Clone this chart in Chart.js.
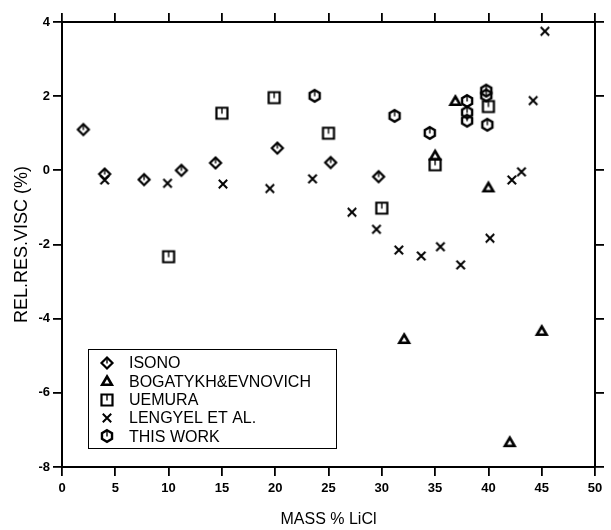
<!DOCTYPE html>
<html><head><meta charset="utf-8">
<script src="https://cdn.jsdelivr.net/npm/chart.js@4.4.0/dist/chart.umd.min.js"></script>
<style>html,body{margin:0;padding:0;background:#fff;}canvas{display:block}</style>
</head><body>
<canvas id="c" width="611" height="530"></canvas>
<script>
// ---- data ----
const seriesNames = ['ISONO', 'BOGATYKH&EVNOVICH', 'UEMURA', 'LENGYEL ET AL.', 'THIS WORK'];
const isonoX = [2.0, 4.0, 7.7, 11.2, 14.4, 20.2, 25.2, 29.7];
const isonoY = [1.1, -0.1, -0.25, 0.0, 0.2, 0.6, 0.21, -0.17];
const bogatykhX = [32.1, 35.0, 36.9, 40.0, 42.0, 45.0];
const bogatykhY = [-4.55, 0.4, 1.87, -0.46, -7.33, -4.33];
const uemuraX = [10.0, 15.0, 19.9, 25.0, 30.0, 35.0, 40.0];
const uemuraY = [-2.33, 1.54, 1.96, 1.0, -1.02, 0.15, 1.72];
const lengyelX = [4.0, 9.9, 15.1, 19.5, 23.5, 27.2, 29.5, 31.6, 33.7, 35.5, 37.4, 40.15, 42.2, 43.1, 44.2, 45.3];
const lengyelY = [-0.26, -0.35, -0.37, -0.49, -0.23, -1.13, -1.59, -2.15, -2.31, -2.06, -2.55, -1.83, -0.26, -0.04, 1.88, 3.75];
const thisWorkX = [23.7, 31.2, 34.5, 38.0, 38.0, 38.0, 39.8, 39.8, 39.9];
const thisWorkY = [2.01, 1.47, 1.01, 1.87, 1.56, 1.34, 2.15, 2.02, 1.23];
const xTicks = [0, 5, 10, 15, 20, 25, 30, 35, 40, 45, 50];
const yTicks = [-8, -6, -4, -2, 0, 2, 4];

// ---- marker images ----
function marker(kind) {
  const s = 18, m = 9;
  const c = document.createElement('canvas');
  c.width = s; c.height = s;
  const g = c.getContext('2d');
  g.strokeStyle = '#000'; g.lineWidth = 2.2; g.lineJoin = 'miter';
  g.beginPath();
  if (kind === 'diamond') {
    g.moveTo(m, m - 5.5); g.lineTo(m + 5.5, m); g.lineTo(m, m + 5.5); g.lineTo(m - 5.5, m); g.closePath(); g.stroke();
    g.lineWidth = 1.4; g.beginPath(); g.moveTo(m, m - 4); g.lineTo(m, m + 0.5); g.stroke();
  } else if (kind === 'triangle') {
    g.lineWidth = 2.6;
    g.moveTo(m, m - 4.5); g.lineTo(m + 4.8, m + 3.8); g.lineTo(m - 4.8, m + 3.8); g.closePath(); g.stroke();
  } else if (kind === 'square') {
    g.rect(m - 5.5, m - 5.5, 11, 11); g.stroke();
    g.lineWidth = 1.4; g.beginPath(); g.moveTo(m, m - 5); g.lineTo(m, m + 0.5); g.stroke();
  } else if (kind === 'cross') {
    g.lineWidth = 2;
    g.moveTo(m - 4.2, m - 4.2); g.lineTo(m + 4.2, m + 4.2); g.moveTo(m + 4.2, m - 4.2); g.lineTo(m - 4.2, m + 4.2); g.stroke();
  } else if (kind === 'hexagon') {
    const r = 5.8;
    for (let i = 0; i < 6; i++) {
      const a = -Math.PI / 2 + i * Math.PI / 3;
      const px = m + r * Math.cos(a), py = m + r * Math.sin(a);
      if (i === 0) g.moveTo(px, py); else g.lineTo(px, py);
    }
    g.closePath(); g.lineWidth = 2.4; g.stroke();
    g.lineWidth = 1.4; g.beginPath(); g.moveTo(m, m - 5); g.lineTo(m, m + 0.5); g.stroke();
  }
  return c;
}
const markers = [marker('diamond'), marker('triangle'), marker('square'), marker('cross'), marker('hexagon')];

const toPts = (xs, ys) => xs.map((x, i) => ({ x: x, y: ys[i] }));
const seriesData = [
  toPts(isonoX, isonoY),
  toPts(bogatykhX, bogatykhY),
  toPts(uemuraX, uemuraY),
  toPts(lengyelX, lengyelY),
  toPts(thisWorkX, thisWorkY)
];

Chart.defaults.font.family = '"Liberation Sans", Arial, Helvetica, sans-serif';
Chart.defaults.color = '#000';

const legendPlugin = {
  id: 'boxLegend',
  afterDatasetsDraw(chart) {
    const ctx = chart.ctx, ca = chart.chartArea;
    const left = ca.left + 26, top = ca.top + 327, w = 248, h = 99;
    ctx.save();
    ctx.fillStyle = '#fff';
    ctx.fillRect(left, top, w, h);
    ctx.strokeStyle = '#000'; ctx.lineWidth = 1;
    ctx.strokeRect(left + 0.5, top + 0.5, w, h);
    ctx.font = '16px "Liberation Sans", Arial, sans-serif';
    ctx.fillStyle = '#000';
    ctx.textBaseline = 'middle';
    chart.data.datasets.forEach((ds, i) => {
      const y = top + 14 + i * 18.3;
      const mk = ds.pointStyle;
      ctx.drawImage(mk, left + 19 - mk.width / 2, Math.round(y) - mk.height / 2);
      ctx.fillText(ds.label, left + 41, y + 1);
    });
    ctx.restore();
  }
};

const tickGrid = { drawOnChartArea: false, drawTicks: true, tickLength: 9, color: '#000', lineWidth: 1.8 };
const border = { display: true, color: '#000', width: 2 };

new Chart(document.getElementById('c'), {
  type: 'scatter',
  data: {
    datasets: seriesNames.map((name, i) => ({
      label: name,
      data: seriesData[i],
      pointStyle: markers[i],
      pointRadius: 6,
      showLine: false
    }))
  },
  options: {
    responsive: false,
    animation: false,
    devicePixelRatio: 1,
    layout: { padding: 0 },
    plugins: { legend: { display: false }, tooltip: { enabled: false } },
    scales: {
      x: {
        type: 'linear', position: 'bottom', min: 0, max: 50,
        afterBuildTicks: s => { s.ticks = xTicks.map(v => ({ value: v })); },
        afterFit: s => { s.height = 63; },
        grid: tickGrid, border: border,
        ticks: { font: { size: 13, weight: 'bold' }, padding: 5, maxRotation: 0 },
        title: { display: true, text: 'MASS % LiCl', font: { size: 16 }, padding: { top: 0, bottom: 1 } }
      },
      x2: {
        type: 'linear', position: 'top', min: 0, max: 50,
        afterBuildTicks: s => { s.ticks = xTicks.map(v => ({ value: v })); },
        afterFit: s => { s.height = 22; },
        grid: tickGrid, border: border,
        ticks: { display: false }
      },
      y: {
        type: 'linear', position: 'left', min: -8, max: 4,
        afterBuildTicks: s => { s.ticks = yTicks.map(v => ({ value: v })); },
        afterFit: s => { s.width = 62; },
        grid: tickGrid, border: border,
        ticks: { font: { size: 13, weight: 'bold' }, padding: 3 },
        title: { display: true, text: 'REL.RES.VISC (%)', font: { size: 18 }, padding: { top: 11, bottom: 0 } }
      },
      y2: {
        type: 'linear', position: 'right', min: -8, max: 4,
        afterBuildTicks: s => { s.ticks = yTicks.map(v => ({ value: v })); },
        afterFit: s => { s.width = 16; },
        grid: tickGrid, border: border,
        ticks: { display: false }
      }
    }
  },
  plugins: [legendPlugin]
});
</script>
</body></html>
